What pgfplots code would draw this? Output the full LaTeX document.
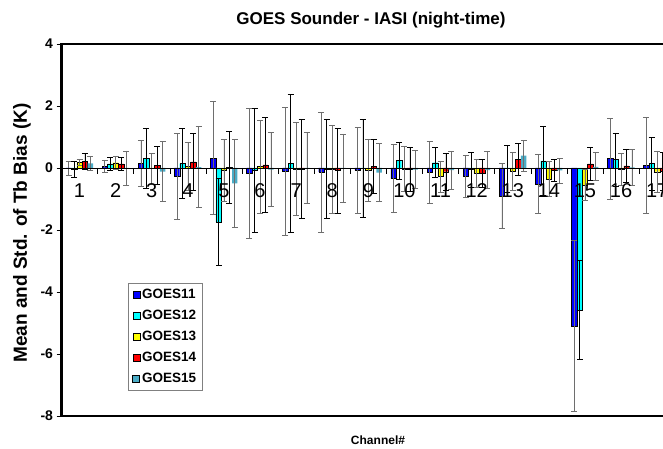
\documentclass[border=0pt]{standalone}
\usepackage{fontspec}
\setmainfont{Liberation Sans}
\usepackage{pgfplots}
\usepackage{pgfplotstable}
\pgfplotsset{compat=1.18}

\definecolor{cA}{RGB}{0,0,255}
\definecolor{cB}{RGB}{0,255,255}
\definecolor{cC}{RGB}{255,255,0}
\definecolor{cD}{RGB}{255,0,0}
\definecolor{cE}{RGB}{75,172,198}
\definecolor{ebgray}{RGB}{110,110,110}

% channel, mean bias, std
\pgfplotstableread{
x y e
1 -0.02 0.22
2 0.05 0.20
3 0.15 0.75
4 -0.28 1.39
5 0.32 1.83
6 -0.16 2.10
7 -0.10 2.07
8 -0.13 1.93
9 -0.07 1.38
10 -0.34 1.10
11 -0.13 1.00
12 -0.26 0.68
13 -0.90 1.05
14 -0.52 0.95
15 -5.10 2.76
16 0.30 1.30
17 0.08 1.55
}\goesA
\pgfplotstableread{
x y e
1 -0.05 0.25
2 0.13 0.20
3 0.32 0.97
4 0.14 1.13
5 -1.75 1.40
6 -0.08 2.00
7 0.16 2.22
8 -0.04 1.60
9 0.00 1.58
10 0.24 0.60
11 0.17 0.48
12 -0.05 0.56
13 -0.02 0.76
14 0.23 1.12
15 -4.58 1.60
16 0.27 0.86
17 0.14 0.85
}\goesB
\pgfplotstableread{
x y e
1 0.18 0.10
2 0.17 0.20
3 -0.02 0.50
4 0.05 0.77
5 -0.08 1.00
6 0.05 1.50
7 -0.03 1.50
8 -0.03 1.42
9 -0.06 1.00
10 -0.03 0.73
11 -0.27 0.50
12 -0.17 0.45
13 -0.11 0.62
14 -0.35 0.55
15 -0.55 0.50
16 -0.05 0.52
17 -0.12 0.67
}\goesC
\pgfplotstableread{
x y e
1 0.22 0.25
2 0.13 0.20
3 0.08 0.62
4 0.20 0.92
5 0.02 1.15
6 0.10 1.53
7 -0.03 1.60
8 -0.08 1.37
9 0.05 0.87
10 -0.05 0.70
11 -0.12 0.60
12 -0.17 0.45
13 0.27 0.52
14 -0.07 0.35
15 0.13 0.52
16 0.07 0.52
17 -0.11 0.60
}\goesD
\pgfplotstableread{
x y e
1 0.15 0.22
2 0.00 0.55
3 -0.12 0.97
4 0.03 1.30
5 -0.50 1.42
6 -0.05 1.20
7 0.00 1.14
8 0.00 1.10
9 -0.15 0.93
10 -0.05 0.62
11 -0.07 0.62
12 -0.07 0.60
13 0.40 0.50
14 -0.08 0.40
15 0.04 0.45
16 0.02 0.58
17 0.00 0.60
}\goesE

% bars are placed by offsetting x, so the error bars follow them
\pgfplotsset{
  goesbar/.style n args={3}{ybar, bar width=0.15, bar shift=0, fill=#1, draw=#3,
    line width=0.4pt, forget plot,
    /pgfplots/error bars/y dir=both, /pgfplots/error bars/y explicit,
    /pgfplots/error bars/error bar style={#2, line width=0.7pt},
    /pgfplots/error bars/error mark options={#2, line width=0.7pt, mark size=3pt, rotate=90}},
}

\begin{document}
\begin{tikzpicture}
\begin{axis}[
  at={(61.5pt,33pt)}, anchor=south west,
  scale only axis, width=613.7pt, height=372pt,
  xmin=0.5, xmax=17.5, ymin=-8, ymax=4,
  axis line style={line width=2.5pt, black},
  xtick=\empty,
  ytick={-8,-6,...,4}, yticklabels={-8,-6,-4,-2,0,2,4},
  yticklabel style={font=\bfseries\fontsize{14}{14}\selectfont},
  ytick pos=left, tick align=outside, major tick length=5pt,
  tick style={black, line width=0.8pt},
  legend image code/.code={\draw[#1] (0pt,-3.5pt) rectangle (7pt,3.5pt);},
  legend style={at={(0.1084,0.3575)}, anchor=north west, draw=gray, line width=0.8pt,
    font=\bfseries\fontsize{13.5}{13.5}\selectfont, row sep=6pt, inner sep=4pt},
  legend cell align=left,
]
\addplot[goesbar={cA}{ebgray}{black}] table[x expr=\thisrow{x}-0.3, y=y, y error=e] {\goesA};
\addplot[goesbar={cB}{black}{black}] table[x expr=\thisrow{x}-0.15, y=y, y error=e] {\goesB};
\addplot[goesbar={cC}{ebgray}{black}] table[x expr=\thisrow{x}, y=y, y error=e] {\goesC};
\addplot[goesbar={cD}{black}{black}] table[x expr=\thisrow{x}+0.15, y=y, y error=e] {\goesD};
\addplot[goesbar={cE}{ebgray}{none}] table[x expr=\thisrow{x}+0.3, y=y, y error=e] {\goesE};

\addplot[black, line width=0.6pt, forget plot] coordinates {(0.5,0) (17.5,0)};
\addplot[ycomb, black, line width=0.6pt, no marks, forget plot] coordinates {
  (1.5,-0.2) (2.5,-0.2) (3.5,-0.2) (4.5,-0.2) (5.5,-0.2) (6.5,-0.2) (7.5,-0.2) (8.5,-0.2)
  (9.5,-0.2) (10.5,-0.2) (11.5,-0.2) (12.5,-0.2) (13.5,-0.2) (14.5,-0.2) (15.5,-0.2) (16.5,-0.2)};

\addlegendimage{fill=cA, draw=black, line width=0.4pt}
\addlegendentry{GOES11}
\addlegendimage{fill=cB, draw=black, line width=0.4pt}
\addlegendentry{GOES12}
\addlegendimage{fill=cC, draw=black, line width=0.4pt}
\addlegendentry{GOES13}
\addlegendimage{fill=cD, draw=black, line width=0.4pt}
\addlegendentry{GOES14}
\addlegendimage{fill=cE, draw=none}
\addlegendentry{GOES15}

\pgfplotsinvokeforeach{1,...,17}{
  \node[font=\fontsize{20}{20}\selectfont] at (axis cs:#1,-0.72) {#1};
}
\end{axis}
\node[font=\bfseries\fontsize{17}{17}\selectfont] at (371pt,429pt) {GOES Sounder - IASI (night-time)};
\node[rotate=90, font=\bfseries\fontsize{19}{19}\selectfont] at (22pt,216pt) {Mean and Std. of Tb Bias (K)};
\node[font=\bfseries\fontsize{12}{12}\selectfont] at (378pt,9pt) {Channel\#};
\pgfresetboundingbox
\path[use as bounding box] (0pt,0pt) rectangle (663pt,449pt);
\end{tikzpicture}
\end{document}
